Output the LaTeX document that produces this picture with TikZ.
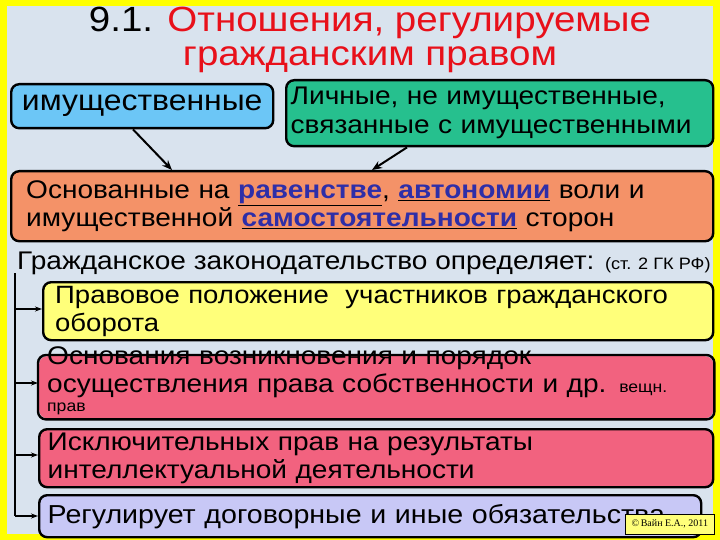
\documentclass[tikz,border=0pt]{standalone}
\usepackage{fontspec}
\setmainfont{Liberation Sans}[FakeStretch=1.1]
\newfontfamily\cpfont{Liberation Serif}
\usetikzlibrary{arrows.meta}
\definecolor{bgc}{HTML}{D9E3EE}
\definecolor{frm}{HTML}{FFFF00}
\definecolor{titred}{HTML}{E8101A}
\definecolor{bluebox}{HTML}{6CC6F6}
\definecolor{greenbox}{HTML}{26C08E}
\definecolor{orangebox}{HTML}{F49268}
\definecolor{yelbox}{HTML}{FFFF7A}
\definecolor{pinkbox}{HTML}{F2627F}
\definecolor{lavbox}{HTML}{C8C8F6}
\definecolor{kw}{HTML}{2E2EA8}
\newcommand{\kwd}[1]{\underline{\textcolor{kw}{\textbf{#1}}}}
\newcommand{\smallsz}{\fontsize{16}{17}\selectfont}
\tikzset{
  box/.style={draw=black, line width=2.4pt, rounded corners=8pt, anchor=north west, inner sep=0pt, align=left},
  btxt/.style={font=\fontsize{25.5}{28}\selectfont},
  arr/.style={line width=2pt, -{Stealth[length=10pt,width=8pt]}},
  sarr/.style={line width=2pt, -{Stealth[length=7pt,width=5pt]}}
}
\begin{document}
\begin{tikzpicture}[x=1pt,y=-1pt]
\useasboundingbox (0,0) rectangle (720,540);
\fill[frm] (0,0) rectangle (720,540);
\fill[bgc] (7,6) rectangle (713,534);
% title
\node[font=\fontsize{35}{34}\selectfont, align=center] (title) at (370,40)
  {9.1. \textcolor{titred}{Отношения, регулируемые}\\\textcolor{titred}{гражданским правом}};
% top boxes
\node[box, fill=bluebox, minimum width=262pt, minimum height=44pt, font=\fontsize{29}{30}\selectfont, align=center] (imu) at (10,83) {имущественные};
\node[box, fill=greenbox, minimum width=427pt, minimum height=66pt, font=\fontsize{25.5}{29}\selectfont, text width=426pt] (lich) at (285,79)
  {\hspace*{4pt}Личные, не имущественные,\\\hspace*{4pt}связанные с имущественными};
% orange box
\node[box, fill=orangebox, minimum width=702pt, minimum height=70pt, btxt, text width=690pt] (osn) at (10,170)
  {\hspace*{9pt}Основанные на \kwd{равенстве}, \kwd{автономии} воли и\\\hspace*{9pt}имущественной \kwd{самостоятельности} сторон};
\draw[arr] ([xshift=123pt]imu.south west) -- ([xshift=162pt]osn.north west);
\draw[arr] ([xshift=122pt]lich.south west) -- ([xshift=362pt]osn.north west);
% law line
\node[anchor=west, inner sep=0pt, btxt] (zak) at (17,263)
  {Гражданское законодательство определяет: {\fontsize{16.5}{18}\selectfont(ст. 2 ГК РФ)}};
% lower boxes
\node[box, fill=yelbox, minimum width=670pt, minimum height=58pt, font=\fontsize{25}{28}\selectfont, text width=660pt] (b1) at (42,281)
  {\hspace*{7pt}Правовое положение\ \ участников гражданского\\\hspace*{7pt}оборота};
\node[box, draw=none, fill=pinkbox, minimum width=674pt, minimum height=62pt, anchor=north west] (b2) at (38,355) {};
\node[anchor=north west, inner sep=0pt, btxt, align=left, text width=665pt] (b2t) at (47,346)
  {Основания возникновения и порядок\\осуществления права собственности и др. {\smallsz вещн.}\\[-9pt]{\smallsz прав}};
\draw[line width=2.4pt, rounded corners=8pt] (b2.north west) rectangle (b2.south east);
\node[box, fill=pinkbox, minimum width=674pt, minimum height=58pt, btxt, text width=665pt] (b3) at (38,428)
  {\hspace*{4pt}Исключительных прав на результаты\\\hspace*{4pt}интеллектуальной деятельности};
\node[box, fill=lavbox, minimum width=662pt, minimum height=42pt, font=\fontsize{26}{28}\selectfont, text width=655pt] (b4) at (38,494)
  {\hspace*{5pt}Регулирует договорные и иные обязательства};
\node[draw=black, line width=0.6pt, fill=yelbox, anchor=north west, minimum width=89pt, minimum height=20pt, inner sep=1pt, font=\cpfont\fontsize{10}{11}\selectfont] (cp) at (625,514) {©\,Вайн Е.А., 2011};
% connectors
\coordinate (vt) at (15,273);
\coordinate (vb) at (15,516);
\draw[line width=2.4pt] (vt) -- (vb);
\draw[sarr] (15,309) -- (b1.west |- 0,309);
\draw[sarr] (15,383) -- (b2.west |- 0,383);
\draw[sarr] (15,455) -- (b3.west |- 0,455);
\draw[sarr] (vb) -- (b4.west |- 0,516);
\end{tikzpicture}
\end{document}
